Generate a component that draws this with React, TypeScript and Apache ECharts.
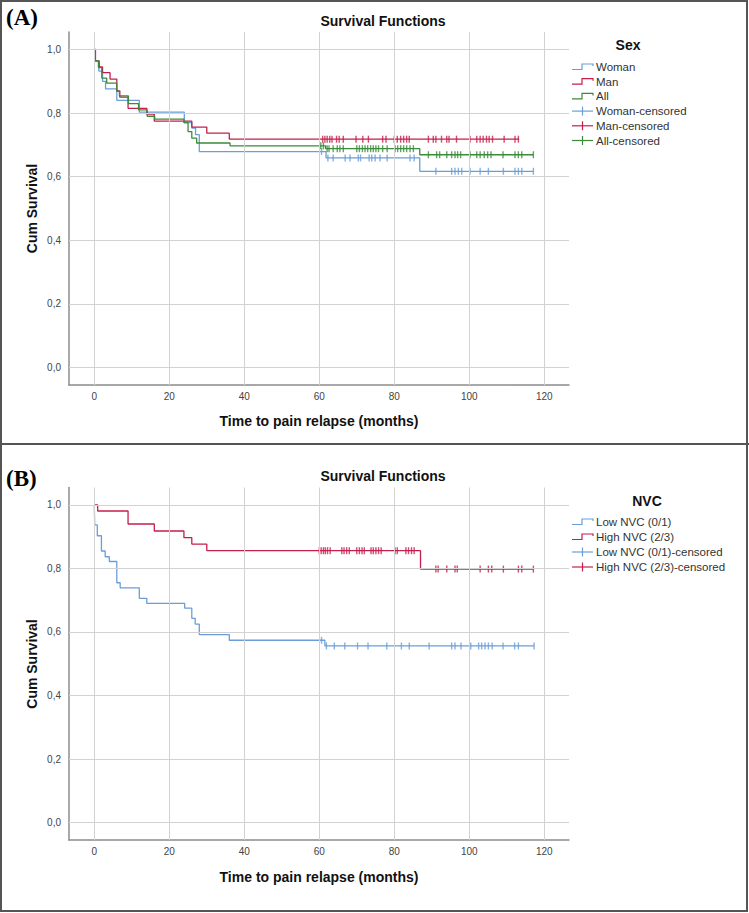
import React, { useEffect, useRef } from "react";
import * as echarts from "echarts";

// ---------- axis ticks ----------
const xTicks = [0, 20, 40, 60, 80, 100, 120];
const yTicks = [0, 0.2, 0.4, 0.6, 0.8, 1.0];

// ---------- Panel A (Sex) ----------
const legendA = ["Woman", "Man", "All", "Woman-censored", "Man-censored", "All-censored"];
const womanT = [0, 0.3, 1.2, 2.2, 3, 6, 12, 24, 26, 27, 28, 61.8, 86.8, 117.1];
const womanS = [1, 0.964, 0.932, 0.9, 0.876, 0.84, 0.803, 0.77, 0.753, 0.732, 0.679, 0.659, 0.617, 0.617];
const womanCens = [60.6, 62.3, 63.7, 66.9, 68.2, 70.4, 71, 73.3, 74, 74.9, 76.2, 78.1, 84.2, 85.3,
  91.1, 95.3, 96.2, 97.1, 98, 100.2, 102.9, 105.1, 109.1, 112.2, 113.1, 114, 117.1];

const manT = [0, 0.3, 1.3, 2.2, 4.2, 6, 6.8, 9, 14, 16, 26, 30, 36, 113.3];
const manS = [1, 0.964, 0.945, 0.927, 0.907, 0.87, 0.85, 0.815, 0.797, 0.775, 0.756, 0.737, 0.718, 0.718];
const manCens = [60.9, 61.5, 62.1, 62.8, 63.4, 64.6, 65.3, 66.4, 69.8, 71.6, 73.1, 76.9, 77.8, 80, 80.8,
  81.7, 82.5, 83.3, 84, 89.1, 90.4, 91.1, 92.6, 94, 94.6, 96.6, 100.2, 102, 102.9, 103.7, 104.6, 105.3,
  106.2, 109.3, 112.2, 113.1];

const allT = [0, 0.2, 1.1, 2.0, 3.3, 6, 6.7, 9.1, 11.8, 14.1, 16.1, 23.9, 25, 26, 27.3, 36.2, 61.7, 86.8, 117.1];
const allS = [1, 0.964, 0.943, 0.91, 0.894, 0.868, 0.854, 0.83, 0.81, 0.79, 0.781, 0.77, 0.742, 0.721, 0.706, 0.697, 0.688, 0.669, 0.669];
const allCens = [60.4, 61.1, 62.1, 62.6, 63.7, 64.8, 65.5, 66.4, 70, 70.7, 71.5, 72.2, 72.9, 73.7, 74.4, 75.1,
  75.8, 76.9, 78.1, 80.2, 80.9, 81.7, 82.5, 83.3, 84.2, 85.1, 89.1, 91.3, 92.1, 94, 95.3, 96.2, 96.9, 97.7,
  100.2, 102, 102.9, 104, 104.9, 105.8, 109, 112.2, 113.1, 114, 117.1];

// ---------- Panel B (NVC) ----------
const legendB = ["Low NVC (0/1)", "High NVC (2/3)", "Low NVC (0/1)-censored", "High NVC (2/3)-censored"];
const lowT = [0, 0.1, 0.8, 1.9, 2.9, 4, 6, 6.9, 12, 14, 24.1, 26, 26.9, 28, 36, 61.5, 117.3];
const lowS = [1, 0.937, 0.903, 0.855, 0.837, 0.822, 0.755, 0.739, 0.706, 0.69, 0.675, 0.643, 0.625, 0.592, 0.574, 0.556, 0.556];
const lowCens = [60.6, 61.9, 64, 66.8, 70.2, 73, 78, 81.9, 84, 89.3, 95.3, 96.2, 97.8, 100.4, 102.5, 103.3,
  104.2, 105.1, 106.1, 109, 112.1, 113.1, 117.3];

const highT = [0, 0.9, 9, 16, 23.9, 26, 30, 87, 117.1];
const highS = [1, 0.981, 0.94, 0.918, 0.897, 0.877, 0.856, 0.798, 0.798];
const highCens = [60, 60.5, 61.1, 61.6, 62.2, 62.9, 66, 66.6, 67.3, 68, 70, 70.7, 71.4, 72, 73.8, 74.4, 75.1,
  75.8, 76.5, 80.2, 80.8, 83.1, 83.8, 84.6, 85.3, 91.1, 91.7, 94, 96.2, 96.8, 102.9, 105.1, 106, 109.1,
  113.1, 114, 117.1];

// ---------- colors ----------
const BLUE = "#6b9ed8";
const RED = "#c41f4c";
const GREEN = "#3b8b3b";
const FONT = '"Liberation Sans", Arial, sans-serif';

function stepAt(ts: number[], ss: number[], t: number) {
  let v = ss[0];
  for (let i = 0; i < ts.length; i++) if (ts[i] <= t) v = ss[i];
  return v;
}

function lineSeries(name: string, ts: number[], ss: number[], color: string, k: number) {
  return {
    name, type: "line", step: "end", xAxisIndex: k, yAxisIndex: k, showSymbol: false, symbol: "none",
    lineStyle: { color, width: 1.3 }, itemStyle: { color }, z: 3, silent: true,
    emphasis: { disabled: true },
    data: ts.map((t, i) => [t, ss[i]]),
  };
}

function censSeries(name: string, cens: number[], ts: number[], ss: number[], color: string, k: number) {
  return {
    name, type: "scatter", xAxisIndex: k, yAxisIndex: k, symbol: "rect", symbolSize: [1.4, 7],
    itemStyle: { color }, z: 4, silent: true, emphasis: { disabled: true },
    data: cens.map((t) => [t, stepAt(ts, ss, t)]),
  };
}

function gridSeries(k: number) {
  return {
    type: "line", xAxisIndex: k, yAxisIndex: k, data: [], silent: true, z: 1,
    markLine: {
      silent: true, symbol: ["none", "none"], label: { show: false }, animation: false,
      lineStyle: { color: "#d2d2d2", width: 1, type: "solid" },
      emphasis: { disabled: true },
      data: [...xTicks.map((v) => ({ xAxis: v })), ...yTicks.map((v) => ({ yAxis: v }))],
    },
  };
}

function legendItems(names: string[], colors: string[], kinds: string[], y0: number, dy: number) {
  const out: any[] = [];
  names.forEach((n, i) => {
    const y = y0 + dy * i;
    if (kinds[i] === "step") {
      out.push({
        type: "polyline", silent: true,
        shape: { points: [[572, y + 2.5], [582, y + 2.5], [582, y - 3], [593, y - 3], [593, y - 1]] },
        style: { stroke: colors[i], lineWidth: 1.2, fill: "none" },
      });
    } else {
      out.push({ type: "line", silent: true, shape: { x1: 572, y1: y, x2: 593, y2: y }, style: { stroke: colors[i], lineWidth: 1.2 } });
      out.push({ type: "line", silent: true, shape: { x1: 582.5, y1: y - 4.5, x2: 582.5, y2: y + 4.5 }, style: { stroke: colors[i], lineWidth: 1.2 } });
    }
    out.push({
      type: "text", silent: true, x: 596, y,
      style: { text: n, fontSize: 11.5, fontFamily: FONT, fill: "#333", align: "left", verticalAlign: "middle" },
    });
  });
  return out;
}

function txt(text: string, x: number, y: number, size: number, opts: any = {}) {
  return {
    type: "text", silent: true, x, y, rotation: opts.rotation || 0,
    style: {
      text, fontSize: size, fontWeight: opts.weight || "bold", fontFamily: opts.family || FONT,
      fill: opts.fill || "#111", align: opts.align || "center", verticalAlign: "middle",
    },
  };
}

export default function App() {
  const ref = useRef<HTMLDivElement>(null);
  useEffect(() => {
    if (!ref.current) return;
    const chart = echarts.init(ref.current, undefined, { renderer: "svg" });
    const xAxis = [0, 1].map((k) => ({
      type: "value", gridIndex: k, min: -6.75, max: 126.6, splitNumber: 7,
      splitLine: { show: false }, axisTick: { show: false },
      axisLine: { show: true, onZero: false, lineStyle: { color: "#8c8c8c", width: 1.5 } },
      axisLabel: {
        margin: 6, fontSize: 10, color: "#444", fontFamily: FONT,
        formatter: (v: number) => (xTicks.some((t) => Math.abs(t - v) < 1e-6) ? String(Math.round(v)) : ""),
      },
    }));
    const yAxis = [0, 1].map((k) => ({
      type: "value", gridIndex: k, min: -0.055, max: 1.055, splitNumber: 5,
      splitLine: { show: false }, axisTick: { show: false },
      axisLine: { show: true, onZero: false, lineStyle: { color: "#8c8c8c", width: 1.5 } },
      axisLabel: {
        margin: 8, fontSize: 10, color: "#444", fontFamily: FONT,
        formatter: (v: number) => (yTicks.some((t) => Math.abs(t - v) < 1e-6) ? v.toFixed(1).replace(".", ",") : ""),
      },
    }));

    const graphic: any[] = [
      { type: "rect", silent: true, shape: { x: 1, y: 1, width: 746, height: 910 }, style: { fill: "none", stroke: "#555", lineWidth: 2 } },
      { type: "line", silent: true, shape: { x1: 0, y1: 444, x2: 749, y2: 444 }, style: { stroke: "#555", lineWidth: 2 } },
      txt("(A)", 6, 17, 23, { align: "left", family: '"Liberation Serif", "Times New Roman", serif', fill: "#000" }),
      txt("(B)", 6, 478, 23, { align: "left", family: '"Liberation Serif", "Times New Roman", serif', fill: "#000" }),
      txt("Survival Functions", 383, 21, 14),
      txt("Survival Functions", 383, 476, 14),
      txt("Time to pain relapse (months)", 319, 421, 14),
      txt("Time to pain relapse (months)", 319, 877, 14),
      txt("Cum Survival", 32, 208.5, 14, { rotation: Math.PI / 2 }),
      txt("Cum Survival", 32, 664, 14, { rotation: Math.PI / 2 }),
      txt("Sex", 628, 45, 14),
      txt("NVC", 647, 501, 14),
      ...legendItems(legendA, [BLUE, RED, GREEN, BLUE, RED, GREEN], ["step", "step", "step", "c", "c", "c"], 67, 14.7),
      ...legendItems(legendB, [BLUE, RED, BLUE, RED], ["step", "step", "c", "c"], 522, 15),
    ];

    chart.setOption({
      animation: false,
      textStyle: { fontFamily: FONT },
      grid: [
        { left: 69, top: 32, width: 500, height: 353, containLabel: false },
        { left: 69, top: 487.5, width: 500, height: 352.5, containLabel: false },
      ],
      xAxis, yAxis,
      series: [
        gridSeries(0), gridSeries(1),
        lineSeries(legendA[0], womanT, womanS, BLUE, 0),
        lineSeries(legendA[1], manT, manS, RED, 0),
        lineSeries(legendA[2], allT, allS, GREEN, 0),
        censSeries(legendA[3], womanCens, womanT, womanS, BLUE, 0),
        censSeries(legendA[4], manCens, manT, manS, RED, 0),
        censSeries(legendA[5], allCens, allT, allS, GREEN, 0),
        lineSeries(legendB[0], lowT, lowS, BLUE, 1),
        lineSeries(legendB[1], highT, highS, RED, 1),
        censSeries(legendB[2], lowCens, lowT, lowS, BLUE, 1),
        censSeries(legendB[3], highCens, highT, highS, RED, 1),
      ],
      graphic,
    });
    return () => chart.dispose();
  }, []);
  return <div ref={ref} style={{ position: "absolute", left: 0, top: 0, width: 749, height: 913, background: "#fff" }} />;
}
